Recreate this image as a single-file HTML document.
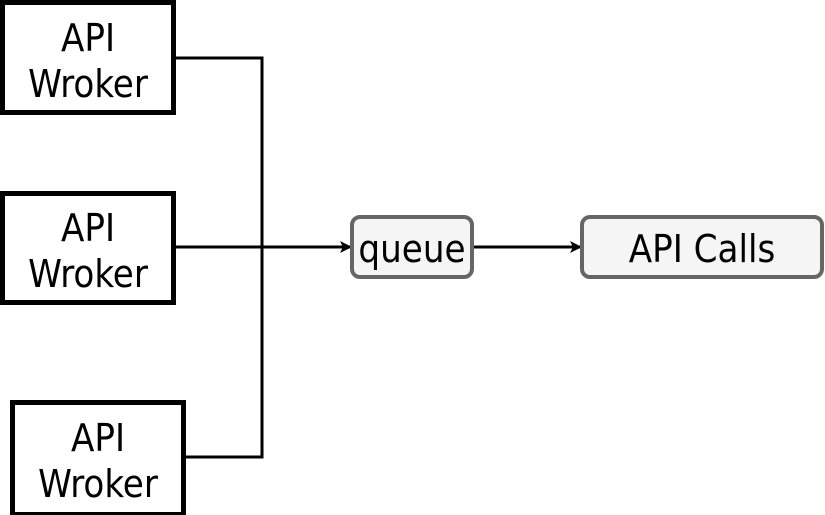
<!DOCTYPE html>
<html><head><meta charset="utf-8"><style>
html,body{margin:0;padding:0;background:#fff;}
svg{display:block;}
text{font-family:"DejaVu Sans Condensed","Liberation Sans",sans-serif;font-size:38px;fill:#000;text-anchor:middle;}
</style></head><body>
<svg width="825" height="515" viewBox="0 0 825 515" xmlns="http://www.w3.org/2000/svg">
<defs><marker id="a" markerWidth="12" markerHeight="12" refX="11" refY="6" orient="auto" markerUnits="userSpaceOnUse"><path d="M0,0 L12,6 L0,12 L3,6 Z" fill="#000"/></marker></defs>
<g fill="none" stroke="#000" stroke-width="3">
<polyline points="174,58 262,58 262,457 186,457"/>
<line x1="174" y1="247" x2="351" y2="247" marker-end="url(#a)"/>
<line x1="473" y1="247" x2="581" y2="247" marker-end="url(#a)"/>
</g>
<g fill="#fff" stroke="#000" stroke-width="5">
<rect x="2.5" y="2.5" width="171" height="110"/>
<rect x="2.5" y="193.5" width="171" height="109"/>
<rect x="12.5" y="402.5" width="171" height="112"/>
</g>
<g fill="#f5f5f5" stroke="#666" stroke-width="4">
<rect x="352" y="217" width="120" height="60" rx="8"/>
<rect x="582" y="217" width="240" height="60" rx="8"/>
</g>
<text x="88" y="51">API</text><text x="88" y="97">Wroker</text>
<text x="88" y="241">API</text><text x="88" y="287">Wroker</text>
<text x="98" y="451">API</text><text x="98" y="497">Wroker</text>
<text x="412" y="262">queue</text>
<text x="702" y="262">API Calls</text>
</svg>
</body></html>
